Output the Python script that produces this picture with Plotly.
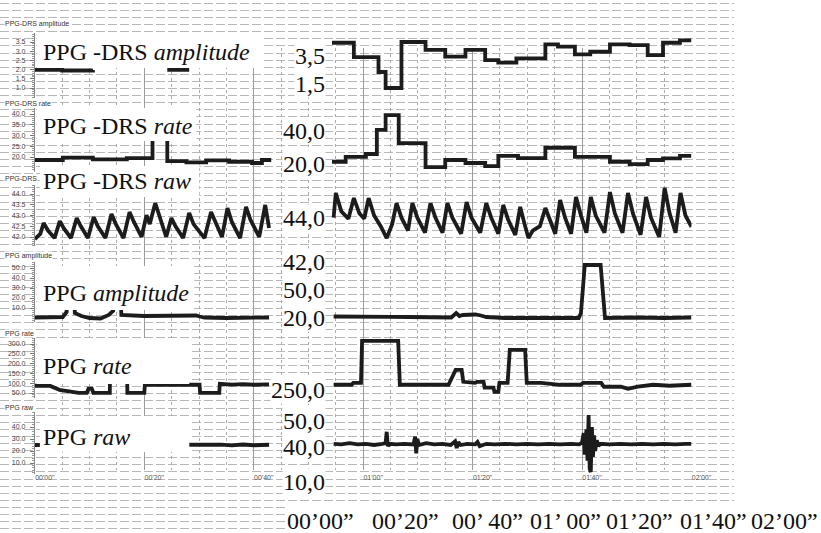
import plotly.graph_objects as go

W, H = 821, 533          # reference picture size
FIG_W = 838              # figure width that the photograph maps onto 821 px

# ---------------- data (time in seconds) ----------------
DRS_AMP_T = [0, 5, 10.6, None, 24.2, 28.2, None, 54.3, 58.3, 62.8, 64.1, 67.0, 71.4, 75.0, 78.7, 82.3,
             84.7, 88.0, 93.3, 95.6, 98.7, 101.5, 105.1, 108.7, 112.0, 114.8, 117.9, 120.0]
DRS_AMP_V = [1.98, 1.95, 1.98, None, 1.98, 1.98, None, 3.46, 2.68, 1.87, 1.0, 3.5, 3.07, 2.7, 3.07, 2.52,
             2.38, 2.61, 3.37, 3.25, 2.83, 2.97, 3.37, 3.33, 2.79, 3.46, 3.59, 3.59]

DRS_RATE_T = [0, 5.1, 10.6, 16.8, 21.5, 24.2, 27.7, 31.3, 35.5, 39.7, 41.5, 43.2, None, 54.3, 56.8,
              60.5, 62.5, 64.1, 66.5, 71.4, 75.0, 78.7, 82.3, 84.7, 88.3, 93.3, 98.7, 105.1, 108.7,
              112.0, 114.8, 117.9, 120.0]
DRS_RATE_V = [18.6, 19.7, 18.9, 19.5, 60.0, 18.1, 17.5, 18.4, 17.8, 17.2, 18.6, 18.6, None, 17.8, 20.1,
              21.4, 32.6, 39.5, 26.5, 15.3, 18.6, 17.2, 15.8, 20.5, 19.5, 24.3, 20.1, 17.8, 16.7,
              18.6, 19.4, 20.5, 20.5]

DRS_RAW_T = [0.0, 1.0, 1.6, 2.4, 3.6, 4.55, 5.3, 6.6, 7.65, 8.4, 9.7, 10.75, 11.5, 12.9, 14.0, 14.8,
             16.2, 17.3, 18.1, 19.5, 20.4, 21.0, 22.0, 22.8, 24.0, 24.95, 25.7, 27.1, 28.2, 29.0,
             31.0, 32.2, 33.0, 34.2, 35.2, 36.0, 37.5, 38.6, 39.4, 41.0, 42.1, 42.8, None,
             54.6, 55.0, 56.0, 57.3, 58.3, 59.3, 60.2, 61.0, 62.0, 63.2, 64.3, 65.3, 66.1, 67.0,
             68.2, 69.0, 69.9, 71.3, 72.3, 73.2, 74.5, 75.4, 76.3, 77.9, 78.9, 79.8, 81.4, 82.5,
             83.4, 84.7, 85.6, 86.5, 87.8, 88.7, 89.5, 90.2, 91.0, 92.3, 93.3, 94.2, 95.1, 96.0,
             96.9, 98.0, 98.9, 99.8, 100.8, 101.6, 102.5, 104.1, 105.1, 106.0, 107.4, 108.4, 109.3,
             110.7, 111.7, 112.6, 114.1, 115.1, 116.0, 117.1, 118.0, 118.9, 120.0]
DRS_RAW_V = [41.9, 42.15, 42.65, 42.3, 41.95, 42.74, 42.4, 41.95, 42.88, 42.5, 41.95, 42.93, 42.5, 41.95,
             43.07, 42.6, 41.95, 43.16, 42.7, 42.0, 43.02, 42.6, 43.58, 42.9, 42.0, 42.88, 42.5,
             41.95, 43.12, 42.6, 41.95, 43.16, 42.7, 42.0, 43.35, 42.7, 41.95, 43.4, 42.8, 42.0,
             43.49, 42.42, None,
             42.9, 44.05, 43.2, 42.85, 43.81, 43.1, 42.85, 43.81, 43.0, 42.5, 41.95, 42.6, 43.58,
             42.9, 42.3, 43.58, 42.9, 42.2, 43.58, 42.9, 42.2, 43.58, 42.9, 42.15, 43.63, 42.9,
             42.2, 43.58, 42.9, 42.15, 43.49, 42.8, 42.1, 43.4, 42.6, 41.95, 42.3, 42.5, 43.35,
             42.7, 42.15, 43.72, 42.9, 42.15, 43.86, 43.0, 42.2, 43.86, 43.0, 42.2, 44.09, 43.1,
             42.2, 44.05, 43.1, 42.1, 43.86, 42.9, 42.0, 44.28, 43.1, 42.2, 44.05, 43.0, 42.47]

PPG_AMP_T = [0, 5.1, 5.8, 6.0, 7.1, 7.3, 8.5, 10.0, 12.0, 13.5, 14.3, 14.6, 15.6, 15.8, 20, 25, 29.5,
             30.1, 31, 35, 42.8, None, 54.6, 60, 65, 68.3, 72, 76.1, 77.0, 77.6, 78.2, 80.5, 81.5,
             82.5, 85.9, 90, 95, 99.4, 99.8, 100.5, 103.4, 104.2, 110, 115, 120]
PPG_AMP_V = [0.5, 1, 6, 40, 40, 5, 2, 0, -0.5, 3, 7, 40, 40, 3, 2, 2, 2.5, 1.5, 0.5, 0, 0.5, None,
             1.5, 1.8, 1.2, 1, 0.5, 0.5, 5, 2, 3, 3.5, 2.5, 1, 0, 0, 0.5, 0, 5, 53, 53, 0, 0.5, 0, 0.5]

PPG_RATE_T = [0, 2.7, 4.5, 6.4, 8.0, 9.5, 9.8, 10.4, 10.7, 13.7, 13.8, 16.8, 16.9, 20.0, 20.1, 25,
              30.1, 30.2, 33.7, 33.8, 36, 38, 40, 42.8, None,
              54.6, 57.9, 58.2, 59.6, 59.8, 66.4, 66.7, 70, 75.6, 76.9, 78.0, 78.3, 80.5, 80.8,
              82.0, 82.2, 83.8, 84.0, 84.7, 84.9, 86.4, 86.8, 89.6, 89.9, 92.5, 96, 99.8, 100.2,
              103.5, 104, 107.1, 108.4, 110.2, 113, 116, 120]
PPG_RATE_V = [87, 87, 66, 58, 51, 51, 72, 72, 51, 51, 400, 400, 51, 51, 92, 92,
              92, 51, 51, 97, 93, 95, 92, 94, None,
              92, 92, 102, 102, 316, 316, 92, 92, 92, 168, 168, 107, 102, 107,
              107, 77, 77, 56, 56, 102, 102, 270, 270, 102, 102, 92, 92, 102,
              102, 82, 82, 71, 82, 92, 87, 92]

PPG_RAW_T = [0, 1, 10, 20, 28.2, 30, 32, 34, 36, 38, 40, 42.8, None,
             54.6, 56, 57.5, 59, 60.5, 62, 63.5, 64.1, 64.3, 64.5, 64.8, 66, 67.5, 69.2, 69.5, 69.7,
             69.9, 70.2, 71.5, 73, 74.5, 76, 76.8, 77.1, 77.4, 77.8, 79, 80.5, 80.9, 81.3, 82.5,
             84, 86, 88, 90, 92, 94, 96, 98, 99.5, 100.0, 100.3, 100.5, 100.8, 101.0, 101.2,
             101.4, 101.6, 101.8, 102.0, 102.2, 102.4, 102.7, 103.0, 103.3, 105, 107, 109, 111,
             113, 115, 117, 119, 120]
PPG_RAW_V = [25, 25, 25, 25, 25, 25.5, 24.8, 25.3, 24.7, 25.4, 24.8, 25.2, None,
             26, 25.5, 26.5, 25.5, 26, 25, 26, 26.5, 36, 24, 26, 25.5, 26, 25.5, 32, 18,
             30, 25, 26.5, 25.5, 26, 25, 28, 22.5, 27.5, 25, 26, 25.5, 27.5, 24, 26,
             25.5, 26, 25.5, 26, 25.5, 26, 25.5, 26, 25.5, 27, 35, 17, 38, 12, 50,
             5, 2.5, 40, 15, 33, 20, 29, 24, 26, 25.5, 26, 25.5, 26,
             25.5, 26, 25.5, 26, 26]

TIME_TICKS = [0, 20, 40, 60, 80, 100, 120]
TIME_LABELS = ["00'00\"", "00'20\"", "00'40\"", "01'00\"", "01'20\"", "01'40\"", "02'00\""]

PANEL_TITLES = ["PPG-DRS amplitude", "PPG-DRS rate", "PPG-DRS", "PPG amplitude", "PPG rate", "PPG raw"]
BIG_LABELS = ["PPG -DRS <i>amplitude</i>", "PPG -DRS <i>rate</i>", "PPG -DRS <i>raw</i>",
              "PPG <i>amplitude</i>", "PPG <i>rate</i>", "PPG <i>raw</i>"]
BIG_Y_LABELS = ["3,5", "1,5", "40,0", "20,0", "44,0", "42,0", "50,0", "20,0",
                "250,0", "50,0", "40,0", "10,0"]
BIG_X_LABELS = ["00\u201900\u201d", "00\u201920\u201d", "00\u2019 40\u201d", "01\u2019 00\u201d",
                "01\u201920\u201d", "01\u201940\u201d", "02\u201900\u201d"]

TICKS = [
    [3.5, 3.0, 2.5, 2.0, 1.5, 1.0],
    [40, 35, 30, 25, 20],
    [44.0, 43.5, 43.0, 42.5, 42.0],
    [50, 40, 30, 20, 10],
    [300, 250, 200, 150, 100, 50],
    [40, 30, 20, 10],
]

# ---------------- layout geometry (pixels of the 821x533 reference) ----------------
X0, X1 = 35, 694
# (value_a, pixel_a, value_b, pixel_b, top_px, bottom_px, minor dtick, line shape)
PANELS = [
    (3.5, 42, 1.0, 88, 33, 98, 0.1, "hv"),
    (40, 114, 20, 157, 108, 172, 1, "hv"),
    (44, 194, 42, 237, 185, 246, 0.1, "linear"),
    (50, 268, 10, 308, 262, 322, 2, "linear"),
    (300, 344, 50, 393, 338, 398, 10, "linear"),
    (40, 427, 10, 463, 412, 474, 2, "linear"),
]
SERIES = [(DRS_AMP_T, DRS_AMP_V), (DRS_RATE_T, DRS_RATE_V), (DRS_RAW_T, DRS_RAW_V),
          (PPG_AMP_T, PPG_AMP_V), (PPG_RATE_T, PPG_RATE_V), (PPG_RAW_T, PPG_RAW_V)]

TITLE_Y = [24, 104, 179, 256, 333, 407]
BOXES = [(37, 262, 33, 68), (37, 197, 108, 141), (40, 200, 166, 197),
         (37, 195, 266, 310), (37, 190, 338, 384), (40, 190, 416, 452)]
BIG_LABEL_Y = [52, 126, 181, 293, 366, 437]
BIG_Y_POS = [56, 84, 131, 164, 218, 262, 290, 318, 390, 421, 447, 482]
BIG_X_POS = [322, 407, 489, 568, 642, 716, 787]


def fy(p):
    return 1 - p / H


def fx(p):
    return p / W


SERIF = "Liberation Serif, Times New Roman, serif"
SANS = "Liberation Sans, Arial, sans-serif"
INK = "#1c1c1c"

fig = go.Figure()
layout = dict(
    width=FIG_W, height=H, autosize=False,
    margin=dict(l=0, r=0, t=0, b=0),
    paper_bgcolor="white", plot_bgcolor="rgba(0,0,0,0)",
    showlegend=False,
)

# background horizontal dashed rules
fig.add_trace(go.Scatter(x=[None], y=[None], xaxis="x", yaxis="y", hoverinfo="skip"))
layout["xaxis"] = dict(domain=[0, fx(737)], range=[0, 1], showgrid=False, zeroline=False,
                       showticklabels=False, ticks="", fixedrange=True)
layout["yaxis"] = dict(domain=[0, 1], range=[0, H], tick0=4.3, dtick=7.1, showgrid=True,
                       gridcolor="#b8b8b8", griddash="9px,3px", gridwidth=1,
                       showticklabels=False, ticks="", zeroline=False, fixedrange=True)

# vertical time grid + small time labels
fig.add_trace(go.Scatter(x=[None], y=[None], xaxis="x2", yaxis="y2", hoverinfo="skip"))
layout["xaxis2"] = dict(domain=[fx(X0), fx(X1)], range=[0, 120], anchor="y2",
                        showgrid=True, gridcolor="#9c9c9c", gridwidth=1,
                        tickvals=TIME_TICKS, ticktext=TIME_LABELS, ticks="",
                        tickfont=dict(size=7, family=SANS, color="#555"),
                        ticklabelshift=10, ticklabelstandoff=2,
                        zeroline=False, showline=False,
                        minor=dict(dtick=5, tick0=0, showgrid=True, gridcolor="#ababab",
                                   griddash="3px,3px", gridwidth=1))
layout["yaxis2"] = dict(domain=[fy(470), fy(48)], range=[0, 1], visible=False, anchor="x2")

for i, (pan, ser, tv) in enumerate(zip(PANELS, SERIES, TICKS)):
    va, pa, vb, pb, top, bot, mdt, shape = pan
    s = (va - vb) / (pb - pa)
    rng = [vb - (bot - pb) * s, va + (pa - top) * s]
    k = i + 3
    xa, ya = f"x{k}", f"y{k}"
    fig.add_trace(go.Scatter(x=ser[0], y=ser[1], mode="lines", xaxis=xa, yaxis=ya,
                             line=dict(color=INK, width=3.8, shape=shape),
                             connectgaps=False, hoverinfo="skip"))
    layout[f"xaxis{k}"] = dict(domain=[fx(X0), fx(X1)], range=[0, 120], anchor=ya, visible=False)
    layout[f"yaxis{k}"] = dict(domain=[fy(bot), fy(top)], range=rng, anchor=xa,
                               tickvals=tv, tickformat=".1f", ticks="outside", ticklen=4,
                               tickcolor="#777", tickwidth=1, showline=True, linecolor="#888",
                               linewidth=1, showgrid=False, zeroline=False,
                               tickfont=dict(size=7, family=SANS, color="#444"),
                               ticklabelstandoff=3,
                               minor=dict(ticks="outside", ticklen=2, dtick=mdt,
                                          tickcolor="#999", showgrid=False))

shapes = []
# white label boxes
for (x0, x1, y0, y1) in BOXES:
    shapes.append(dict(type="rect", xref="paper", yref="paper", x0=fx(x0), x1=fx(x1),
                       y0=fy(y1), y1=fy(y0), fillcolor="white", line=dict(width=0), layer="above"))
# white strip behind bottom big labels
shapes.append(dict(type="rect", xref="paper", yref="paper", x0=fx(287), x1=1,
                   y0=0, y1=fy(507), fillcolor="white", line=dict(width=0), layer="above"))

ann = []
for t, y in zip(PANEL_TITLES, TITLE_Y):
    ann.append(dict(text=t, x=fx(4), y=fy(y), xref="paper", yref="paper", xanchor="left",
                    yanchor="middle", showarrow=False, bgcolor="white", borderpad=0,
                    font=dict(size=7, family=SANS, color="#333")))
for t, y in zip(BIG_LABELS, BIG_LABEL_Y):
    ann.append(dict(text=t, x=fx(41), y=fy(y), xref="paper", yref="paper", xanchor="left",
                    yanchor="middle", showarrow=False,
                    font=dict(size=24, family=SERIF, color="#111")))
for t, y in zip(BIG_Y_LABELS, BIG_Y_POS):
    ann.append(dict(text=t, x=fx(327), y=fy(y), xref="paper", yref="paper", xanchor="right",
                    yanchor="middle", showarrow=False, bgcolor="white", borderpad=0,
                    font=dict(size=24, family=SERIF, color="#111")))
for t, xp in zip(BIG_X_LABELS, BIG_X_POS):
    ann.append(dict(text=t, x=fx(xp), y=fy(521), xref="paper", yref="paper", xanchor="center",
                    yanchor="middle", showarrow=False,
                    font=dict(size=24, family=SERIF, color="#111")))

layout["shapes"] = shapes
layout["annotations"] = ann
fig.update_layout(**layout)

POST = (
    "document.documentElement.style.overflow='hidden';"
    "document.documentElement.style.margin='0';"
    "document.body.style.margin='0';"
    "document.body.style.padding='0';"
    "document.body.style.overflow='hidden';"
)
fig.write_html("out.html",
               config={"responsive": False, "displayModeBar": False},
               post_script=POST)
